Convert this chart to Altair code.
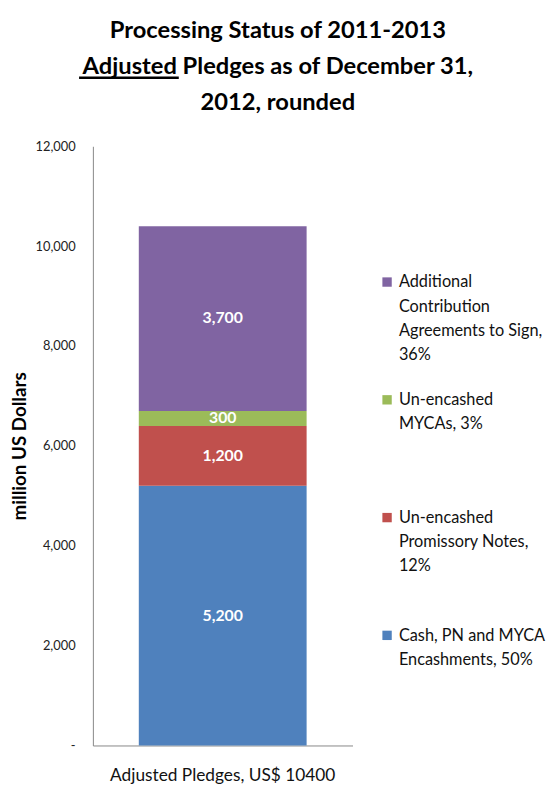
import altair as alt
import pandas as pd

# ---- data (bottom of stack to top) ----
segments = ["Cash, PN and MYCA Encashments", "Un-encashed Promissory Notes",
            "Un-encashed MYCAs", "Additional Contribution Agreements to Sign"]
values = [5200, 1200, 300, 3700]
colors = ["#4F81BD", "#C0504D", "#9BBB59", "#8064A2"]
legend_text = ["Cash, PN and MYCA\nEncashments, 50%",
               " Un-encashed\nPromissory Notes,\n12%",
               "Un-encashed\nMYCAs, 3%",
               " Additional\nContribution\nAgreements to Sign,\n36%"]
stack_order = [0, 1, 2, 3]
legend_row = [3, 2, 1, 0]
bar_label = "Adjusted Pledges, US$ 10400"
y_ticks = [0, 2000, 4000, 6000, 8000, 10000, 12000]
title_lines = ["Processing Status of 2011-2013",
               "Adjusted Pledges as of December 31,",
               "2012, rounded"]

df = pd.DataFrame({"bar": bar_label, "segment": segments, "value": values,
                   "order": stack_order, "legend": legend_text, "row": legend_row})

FONT = "Lato"
color_scale = alt.Scale(domain=segments, range=colors)

base = alt.Chart(df)

bars = base.mark_bar(size=170).encode(
    x=alt.X("bar:N", axis=alt.Axis(title=None, labelAngle=0, ticks=False,
                                   domainColor="#868686", labelFontSize=17.5,
                                   labelPadding=21, labelFont=FONT, labelLimit=400,
                                   labelColor="#111")),
    y=alt.Y("value:Q", stack="zero", scale=alt.Scale(domain=[0, 12000], nice=False),
            axis=alt.Axis(title="million US Dollars", values=y_ticks, ticks=False,
                          grid=False, domainColor="#868686", labelFont=FONT,
                          labelFontSize=13, labelColor="#222", labelPadding=18,
                          labelExpr="datum.value == 0 ? '-' : format(datum.value, ',')",
                          titleFont=FONT, titleFontSize=19, titleFontWeight="bold",
                          titleColor="#000", titlePadding=6)),
    color=alt.Color("segment:N", scale=color_scale, legend=None),
    order=alt.Order("order:Q"),
)

labels = base.transform_stack(
    stack="value", groupby=["bar"], sort=[alt.SortField("order")], as_=["y0", "y1"]
).transform_calculate(mid="(datum.y0 + datum.y1) / 2").mark_text(
    color="white", fontWeight="bold", fontSize=16, font=FONT
).encode(
    x=alt.X("bar:N"),
    y=alt.Y("mid:Q", title="million US Dollars"),
    text=alt.Text("value:Q", format=","),
)

# underline of the word "Adjusted" in the title (text decoration)
underline = alt.Chart(pd.DataFrame({"u": [0]})).mark_rule(
    color="black", strokeWidth=2.5, clip=False
).encode(x=alt.value(-14), x2=alt.value(87), y=alt.value(-69.5))

main = alt.layer(bars, labels, underline).properties(width=263, height=607)

leg_y = alt.Y("row:Q", scale=alt.Scale(domain=[-1.09, 3.998], reverse=True,
                                       nice=False, zero=False), axis=None)
leg_sq = alt.Chart(df).mark_square(size=90, yOffset=7.5, opacity=1).encode(
    x=alt.value(11), y=leg_y,
    color=alt.Color("segment:N", scale=color_scale, legend=None))
leg_txt = alt.Chart(df).mark_text(align="left", baseline="top", lineBreak="\n",
                                  lineHeight=24.5, fontSize=16.5, font=FONT,
                                  color="#111").encode(
    x=alt.value(23), y=leg_y, text="legend:N")
legend = alt.layer(leg_sq, leg_txt).properties(width=160, height=607)

chart = alt.hconcat(main, legend, spacing=24).properties(
    title=alt.TitleParams(text=title_lines, font=FONT, fontSize=24, fontWeight="bold",
                          lineHeight=36.5, anchor="middle", color="#000", offset=-39),
    padding={"left": 2, "top": 6, "right": 0, "bottom": 0},
).configure_view(strokeWidth=0)

chart.save("out.html", embed_options={"renderer": "svg", "actions": False})
